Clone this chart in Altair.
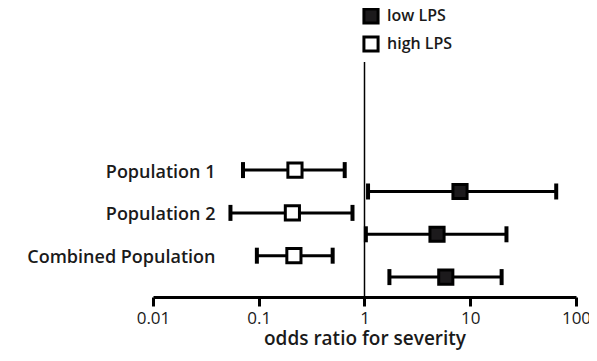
import altair as alt
import pandas as pd

populations = ["Population 1", "Population 2", "Combined Population"]
groups = ["low LPS", "high LPS"]
high_or = [0.22, 0.208, 0.215]
high_lo = [0.071, 0.054, 0.096]
high_hi = [0.65, 0.77, 0.50]
low_or = [8.0, 4.85, 5.87]
low_lo = [1.08, 1.03, 1.72]
low_hi = [65.0, 22.0, 19.8]
x_ticks = [0.01, 0.1, 1, 10, 100]

rows = []
for i, p in enumerate(populations):
    rows.append({"pop": p, "group": "high LPS", "row": 5 + 2 * i,
                 "or": high_or[i], "lo": high_lo[i], "hi": high_hi[i]})
    rows.append({"pop": p, "group": "low LPS", "row": 6 + 2 * i,
                 "or": low_or[i], "lo": low_lo[i], "hi": low_hi[i]})
df = pd.DataFrame(rows)

label_expr = ("datum.value == 5 ? 'Population 1' : datum.value == 7 ? 'Population 2' : "
              "datum.value == 9 ? 'Combined Population' : ''")

xscale = alt.Scale(type="log", domain=[0.01, 100], nice=False)
yscale = alt.Scale(domain=[-0.05, 10.93], reverse=True, nice=False, zero=False)

xaxis = alt.Axis(values=x_ticks, title="odds ratio for severity", grid=False,
                 domainWidth=3, domainColor="black", tickWidth=3, tickColor="black",
                 tickSize=9, labelFontSize=17, labelFont="Open Sans", labelColor="#1a1a1a",
                 labelPadding=4, labelFlush=False,
                 labelExpr="datum.value == 0.01 ? '0.01' : datum.value == 0.1 ? '0.1' : format(datum.value, 'd')",
                 titleFont="Open Sans", titleFontSize=19, titleFontWeight=600,
                 titleColor="#1a1a1a", titlePadding=3)
yaxis = alt.Axis(values=[5, 7, 9], labelExpr=label_expr, domain=False, ticks=False,
                 grid=False, title=None, offset=-62, labelPadding=0, labelLimit=400,
                 labelOffset=2,
                 labelFont="Open Sans", labelFontSize=18, labelFontWeight=600,
                 labelColor="#1a1a1a")

base = alt.Chart(df)

ci = base.mark_rule(color="black", strokeWidth=3).encode(
    x=alt.X("lo:Q", scale=xscale, axis=xaxis),
    x2="hi:Q",
    y=alt.Y("row:Q", scale=yscale, axis=yaxis),
)
cap_lo = base.mark_point(shape="M0,-1L0,1", size=256, strokeWidth=4, color="black",
                         filled=False, opacity=1).encode(
    x=alt.X("lo:Q", scale=xscale), y=alt.Y("row:Q", scale=yscale))
cap_hi = base.mark_point(shape="M0,-1L0,1", size=256, strokeWidth=4, color="black",
                         filled=False, opacity=1).encode(
    x=alt.X("hi:Q", scale=xscale), y=alt.Y("row:Q", scale=yscale))

vline = alt.Chart(pd.DataFrame({"v": [1]})).mark_rule(color="black", strokeWidth=1.5).encode(
    x=alt.X("v:Q", scale=xscale))

squares = base.mark_point(shape="square", size=200, strokeWidth=3, stroke="black",
                          filled=True, opacity=1, fillOpacity=1).encode(
    x=alt.X("or:Q", scale=xscale),
    y=alt.Y("row:Q", scale=yscale),
    fill=alt.Fill("group:N", scale=alt.Scale(domain=groups, range=["#1c1a1c", "white"]),
                  legend=alt.Legend(title=None, orient="none", legendX=209, legendY=-55,
                                    symbolType="square", symbolSize=200,
                                    symbolStrokeColor="black", symbolStrokeWidth=3,
                                    labelFont="Open Sans", labelFontSize=16,
                                    labelFontWeight=600, labelColor="#1a1a1a",
                                    labelOffset=7, rowPadding=0, padding=0)),
)

chart = alt.layer(vline, ci, cap_lo, cap_hi, squares).properties(
    width=423, height=235,
    autosize=alt.AutoSizeParams(type="none"),
    padding={"left": 145, "top": 54, "right": 13, "bottom": 56},
).configure(background="white").configure_view(strokeWidth=0, stroke="transparent")

chart.save("out.html", embed_options={"renderer": "svg", "actions": False})
